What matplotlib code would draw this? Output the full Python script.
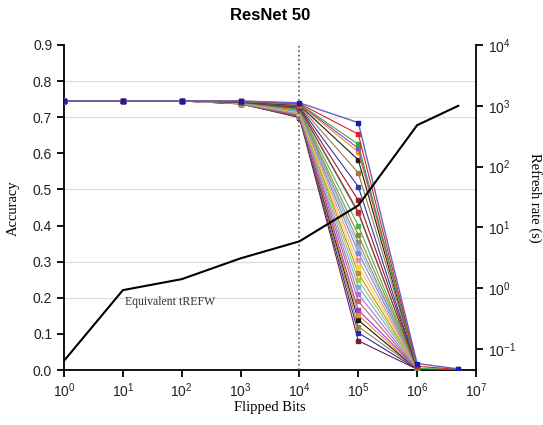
import matplotlib
matplotlib.use("Agg")
import matplotlib.pyplot as plt
from matplotlib.ticker import FixedLocator, NullLocator, FormatStrFormatter

plt.rcParams["font.family"] = ["Liberation Sans", "DejaVu Sans"]
plt.rcParams["axes.unicode_minus"] = False

# flipped-bit counts on the x axis
bits = [1, 10, 100, 1e3, 1e4, 1e5, 1e6, 5e6]

# accuracy shared by every run for the first three bit counts
acc_start = [0.745, 0.745, 0.745]

# per-run accuracy at 1e3 .. 1e6 flipped bits (one entry per run)
acc_1e3 = [0.745, 0.745, 0.744, 0.744, 0.744, 0.743, 0.743, 0.743, 0.742, 0.742,
           0.742, 0.741, 0.741, 0.741, 0.740, 0.740, 0.740, 0.740, 0.739, 0.739,
           0.739, 0.739, 0.738, 0.738, 0.738, 0.738, 0.737, 0.737, 0.737]
acc_1e4 = [0.740, 0.738, 0.737, 0.736, 0.735, 0.733, 0.731, 0.729, 0.727, 0.725,
           0.724, 0.722, 0.720, 0.719, 0.718, 0.716, 0.715, 0.713, 0.712, 0.711,
           0.709, 0.708, 0.707, 0.705, 0.704, 0.703, 0.702, 0.701, 0.699]
acc_1e5 = [0.685, 0.653, 0.625, 0.614, 0.604, 0.582, 0.546, 0.508, 0.470, 0.438,
           0.434, 0.400, 0.374, 0.355, 0.341, 0.325, 0.305, 0.286, 0.268, 0.250,
           0.231, 0.210, 0.190, 0.166, 0.152, 0.138, 0.120, 0.103, 0.081]
acc_1e6 = [0.018, 0.010, 0.004, 0.008, 0.006, 0.005, 0.007, 0.004, 0.006, 0.003,
           0.005, 0.004, 0.006, 0.003, 0.005, 0.004, 0.003, 0.005, 0.004, 0.003,
           0.004, 0.003, 0.002, 0.004, 0.003, 0.002, 0.003, 0.002, 0.002]
# only the first few runs were carried on to 5e6 bits
acc_5e6 = [0.003, 0.002, 0.002]

# equivalent refresh window (seconds) for each bit count
refresh_s = [0.064, 0.93, 1.41, 3.1, 5.9, 23, 480, 1000]

grid_levels = [0.2, 0.3, 0.5, 0.7, 0.8]

run_colors = ["#2a2aa8", "#e3201b", "#35a845", "#9a3fc8", "#f0902a", "#1a1a1a",
              "#a07c3a", "#2a3ab0", "#8e1f2a", "#b03030", "#3a8a8a", "#50b050",
              "#8a8a30", "#909090", "#8fb7dd", "#6f8fbf", "#e090b0", "#f2dc2e",
              "#c88a20", "#9ccc50", "#70b0e0", "#b070d0", "#c06070", "#9a3fc8",
              "#f0902a", "#1a1a1a", "#9a8a40", "#2a2aa8", "#7a1a3a"]

W, H = 543, 425
fig = plt.figure(figsize=(W / 100, H / 100), dpi=100)
ax = fig.add_axes([64 / W, 1 - 370 / H, (476 - 64) / W, (370 - 45) / H])

# ---------------------------- accuracy runs ---------------------------- #
n_runs = len(acc_1e5)
for i in reversed(range(n_runs)):
    ys = acc_start + [acc_1e3[i], acc_1e4[i], acc_1e5[i], acc_1e6[i]]
    if i < len(acc_5e6):
        ys = ys + [acc_5e6[i]]
    xs = bits[:len(ys)]
    c = run_colors[i]
    if i == 0:
        ax.plot(xs, ys, color="#6464c0", lw=1.0, marker="s", ms=3.5,
                mfc="#1a1ab4", mec="#1a1ab4", zorder=5)
    else:
        ax.plot(xs, ys, color=c, lw=0.8, marker="s", ms=3, mfc=c, mec=c,
                zorder=3)

for g in grid_levels:
    ax.axhline(g, color="#dcdcdc", lw=0.9, zorder=0)
ax.axvline(1e4, color="#555555", ls=":", lw=1.2, zorder=4)

ax.set_xscale("log")
ax.set_xlim(1, 1e7)
ax.set_ylim(0, 0.9)
ax.xaxis.set_major_locator(FixedLocator([10 ** k for k in range(8)]))
ax.xaxis.set_minor_locator(NullLocator())
ax.set_yticks([k / 10 for k in range(10)])
ax.yaxis.set_major_formatter(FormatStrFormatter("%.1f"))

# ---------------------------- refresh window --------------------------- #
ax2 = ax.twinx()
ax2.plot(bits, refresh_s, color="black", lw=1.5, zorder=6)
ax2.set_yscale("log")
ax2.set_ylim(10 ** -1.345, 1e4)
ax2.yaxis.set_major_locator(FixedLocator([10 ** k for k in range(-1, 5)]))
ax2.yaxis.set_minor_locator(NullLocator())

for a in (ax, ax2):
    a.spines["top"].set_visible(False)
    for s in ("left", "right", "bottom"):
        a.spines[s].set_linewidth(1.3)
    a.tick_params(direction="out", length=5, width=1.3, labelsize=10,
                  colors="black", labelcolor="#222222")
ax.spines["right"].set_visible(False)
ax2.spines["left"].set_visible(False)
ax2.spines["bottom"].set_visible(False)

ax.text(11, 0.187, "Equivalent tREFW", family="Liberation Serif", fontsize=8.5,
        color="#333333", ha="left", va="center", zorder=7)

fig.text(270 / W, 1 - 15 / H, "ResNet 50", ha="center", va="center",
         fontsize=12, fontweight="bold")
fig.text(13 / W, 1 - 208 / H, "Accuracy", family="Liberation Serif",
         fontsize=10.5, rotation=90, ha="center", va="center")
fig.text(270 / W, 1 - 408 / H, "Flipped Bits", family="Liberation Serif",
         fontsize=10.5, ha="center", va="center")
fig.text(535 / W, 1 - 198 / H, "Refresh rate (s)", family="Liberation Serif",
         fontsize=10.5, rotation=270, ha="center", va="center")

fig.savefig("out.png", dpi=100)
